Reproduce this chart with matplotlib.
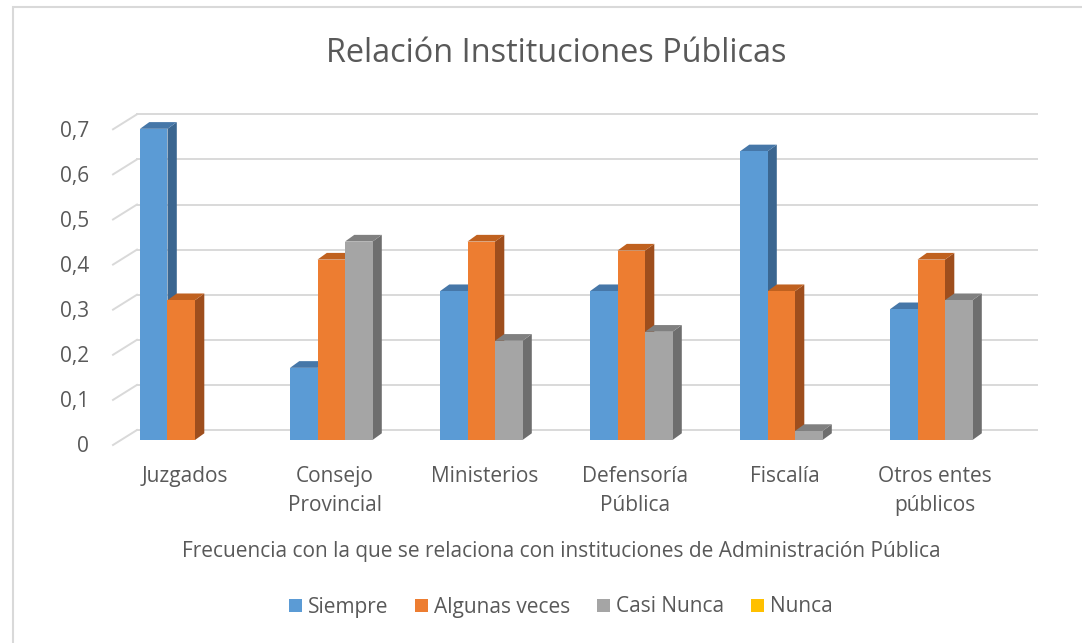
import matplotlib
matplotlib.use('Agg')
import matplotlib.pyplot as plt
from matplotlib.patches import Polygon, Patch, Rectangle

# Datos
categorias = ['Juzgados', 'Consejo\nProvincial', 'Ministerios', 'Defensoría\nPública', 'Fiscalía', 'Otros entes\npúblicos']
series = ['Siempre', 'Algunas veces', 'Casi Nunca', 'Nunca']
siempre = [0.69, 0.16, 0.33, 0.33, 0.64, 0.29]
algunas_veces = [0.31, 0.40, 0.44, 0.42, 0.33, 0.40]
casi_nunca = [0.0, 0.44, 0.22, 0.24, 0.02, 0.31]
nunca = [0.0, 0.0, 0.0, 0.0, 0.0, 0.0]
ticks = [0, 0.1, 0.2, 0.3, 0.4, 0.5, 0.6, 0.7]
tick_labels = ['0', '0,1', '0,2', '0,3', '0,4', '0,5', '0,6', '0,7']

valores = [siempre, algunas_veces, casi_nunca, nunca]
# colores: frente, lado, arriba
colores = [('#5B9BD5', '#3B6690', '#4677A8'),
           ('#ED7D31', '#9E4E1D', '#C0611F'),
           ('#A5A5A5', '#6E6E6E', '#808080'),
           ('#FFC000', '#B08500', '#C99800')]
texto = '#595959'
grid = '#D9D9D9'
fuente = 'Open Sans'
fs = 15

W, H = 1082, 643
fig = plt.figure(figsize=(W / 100, H / 100), dpi=100)

# Ejes colocados en pixeles de la figura
px_l, px_r, px_t, px_b = 20, 1060, 100, 450
ax = fig.add_axes([px_l / W, 1 - px_b / H, (px_r - px_l) / W, (px_b - px_t) / H])
x0, sx = 195, 150.0   # centro del grupo 0 y separacion en px
y0, sy = 440, 451.0   # base de barras y px por unidad
ax.set_xlim((px_l - x0) / sx, (px_r - x0) / sx)
ax.set_ylim((y0 - px_b) / sy, (y0 - px_t) / sy)
ax.axis('off')

# Profundidad 3D
ddx = 9.3 / sx
ddy = 6.7 / sy
back_dy = 10 / sy
g_left = (137 - x0) / sx
g_right = (1037 - x0) / sx
g_front = (113 - x0) / sx
front_dy = -5 / sy

# Cuadricula (pared del fondo)
for t in ticks:
    ax.plot([g_front, g_left], [t + front_dy, t + back_dy], color=grid, lw=1.4, zorder=1)
    ax.plot([g_left, g_right], [t + back_dy, t + back_dy], color=grid, lw=1.4, zorder=1)
for t, lab in zip(ticks, tick_labels):
    ax.text((89 - x0) / sx, t + front_dy - 2 / sy, lab, ha='right', va='center',
            fontsize=fs, color=texto, family=fuente)

# Barras
bw = 27.5 / sx
for s, (vals, (cf, cs, ct)) in enumerate(zip(valores, colores)):
    for i, v in enumerate(vals):
        xl = i + (s - 2) * bw
        xr = xl + bw
        if v > 0:
            ax.add_patch(Rectangle((xl, 0), bw, v, facecolor=cf, edgecolor='none', zorder=3))
        ax.add_patch(Polygon([(xr, 0), (xr + ddx, ddy), (xr + ddx, v + ddy), (xr, v)],
                             closed=True, facecolor=cs, edgecolor='none', zorder=2))
        if v > 0:
            ax.add_patch(Polygon([(xl, v), (xl + ddx, v + ddy), (xr + ddx, v + ddy), (xr, v)],
                                 closed=True, facecolor=ct, edgecolor='none', zorder=2))

# Etiquetas de categoria
for i, c in enumerate(categorias):
    ax.text(i - 10 / sx, (y0 - 466) / sy, c, ha='center', va='top', fontsize=fs,
            color=texto, family=fuente, linespacing=1.5)

# Titulo y eje
fig.text(556 / W, 1 - 53 / H, 'Relación Instituciones Públicas', ha='center', va='center',
         fontsize=23.4, color=texto, family=fuente)
fig.text(561 / W, 1 - 551 / H,
         'Frecuencia con la que se relaciona con instituciones de Administración Pública',
         ha='center', va='center', fontsize=fs, color=texto, family=fuente)

# Leyenda
handles = [Patch(facecolor=c[0], edgecolor='none') for c in colores]
fig.legend(handles, series, loc='center', bbox_to_anchor=(561 / W, 1 - 607 / H), ncol=4,
           frameon=False, handlelength=0.6, handleheight=0.6, handletextpad=0.3,
           columnspacing=1.3, prop={'family': fuente, 'size': fs}, labelcolor=texto)

# Borde
fig.add_artist(Rectangle((13 / W, -0.1), 1.2, 1 - 7 / H + 0.1, transform=fig.transFigure,
                         facecolor='none', edgecolor='#D9D9D9', lw=1.5))

fig.savefig('out.png', dpi=100)
